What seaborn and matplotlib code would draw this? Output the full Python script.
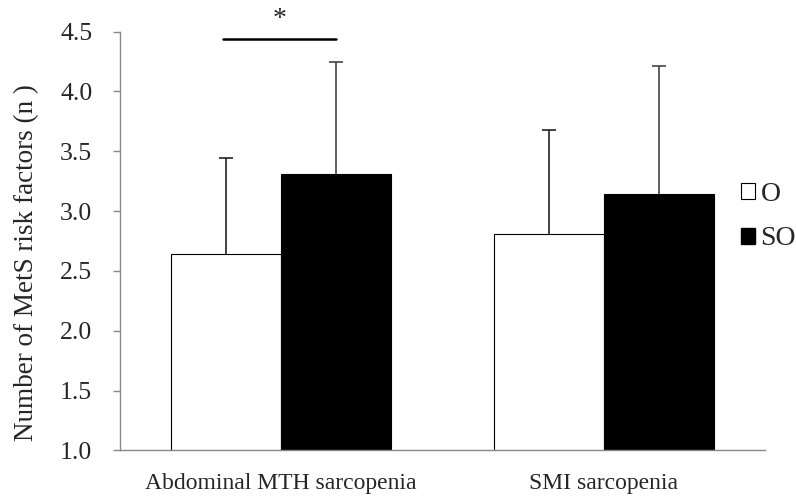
import numpy as np
import pandas as pd
import matplotlib
matplotlib.use("Agg")
import matplotlib.pyplot as plt
import seaborn as sns
from matplotlib.patches import Patch

# values
categories = ["Abdominal MTH sarcopenia", "SMI sarcopenia"]
groups = ["O", "SO"]
means_o = [2.64, 2.81]
means_so = [3.31, 3.14]
sd_o = [0.80, 0.87]
sd_so = [0.94, 1.07]

df = pd.DataFrame({
    "category": categories * 2,
    "group": ["O"] * 2 + ["SO"] * 2,
    "mean": means_o + means_so,
    "sd": sd_o + sd_so,
})

sns.set_style("white")
plt.rcParams["font.family"] = ["Liberation Serif", "DejaVu Serif"]
plt.rcParams["font.size"] = 18

fig = plt.figure(figsize=(7.96, 4.96), dpi=100)
ax = fig.add_axes([0.1508, 0.0921, 0.81, 0.8440])

sns.barplot(data=df, x="category", y="mean", hue="group", hue_order=groups,
            order=categories, palette={"O": "white", "SO": "black"},
            edgecolor="black", linewidth=0.8, width=0.682, errorbar=None,
            legend=False, ax=ax)

# upper-only error bars (no cap at the bar top)
err_colors = {"O": "#222222", "SO": "#444444"}
for bars, g in zip(ax.containers, groups):
    sub = df[df["group"] == g].set_index("category").loc[categories]
    xs = [b.get_x() + b.get_width() / 2 for b in bars]
    _, caps, _ = ax.errorbar(xs, sub["mean"], yerr=[np.zeros(len(xs)), sub["sd"]],
                             fmt="none", ecolor=err_colors[g], elinewidth=1.2,
                             capsize=5, capthick=1.2, zorder=3)
    caps[0].set_visible(False)

ax.set_ylim(1.0, 4.5)
ax.set_xlim(-0.5, 1.5)
yt = np.arange(1.0, 4.51, 0.5)
ax.set_yticks(yt)
ax.set_yticklabels([f"{v:.1f}" for v in yt], fontsize=18.5)
ax.set_xticks([0, 1])
ax.set_xticklabels(categories, fontsize=17)
ax.set_xticks([-0.5, 0.5, 1.5], minor=True)
ax.tick_params(axis="x", which="major", length=0, pad=16)
ax.tick_params(axis="x", which="minor", length=6, color="#888888", width=1, direction="out")
ax.tick_params(axis="y", length=5, color="#888888", width=1, direction="out", left=True, pad=15)
ax.set_xlabel("")
ax.set_ylabel("Number of MetS risk factors (n )", fontsize=19.5)
ax.yaxis.set_label_coords(-0.125, 0.449)

for s in ["top", "right"]:
    ax.spines[s].set_visible(False)
for s in ["left", "bottom"]:
    ax.spines[s].set_color("#888888")
    ax.spines[s].set_linewidth(1)

# significance marker
b0 = ax.containers[0][0]
b1 = ax.containers[1][0]
x0 = b0.get_x() + b0.get_width() / 2 - 0.01
x1 = b1.get_x() + b1.get_width() / 2
ax.plot([x0, x1], [4.44, 4.44], color="black", lw=1.8, clip_on=False)
ax.text((x0 + x1) / 2, 4.6, "*", ha="center", va="center", fontsize=20, clip_on=False)

handles = [Patch(facecolor="white", edgecolor="black", linewidth=0.8, label="O"),
           Patch(facecolor="black", edgecolor="black", label="SO")]
fig.legend(handles=handles, loc="center left", bbox_to_anchor=(0.931, 0.563),
           frameon=False, handlelength=0.5, handleheight=0.5, handletextpad=0.2,
           labelspacing=0.7, fontsize=20, borderaxespad=0, borderpad=0)

fig.savefig("out.png", dpi=100)
